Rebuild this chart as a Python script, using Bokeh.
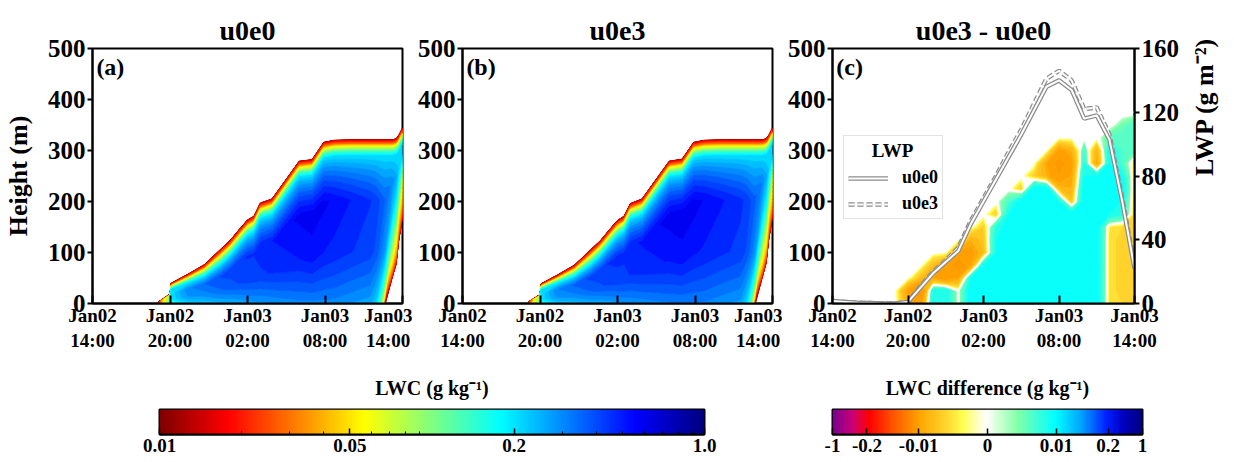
import numpy as np
from contourpy import contour_generator, FillType, LineType
from bokeh.plotting import figure
from bokeh.models import (ColumnDataSource, FixedTicker, Range1d, LinearAxis, Label,
                          Legend, LegendItem, Spacer)
from bokeh.layouts import row, column
from bokeh.embed import file_html
from bokeh.resources import INLINE

FONT = "Liberation Serif"

# ---------------- data ----------------
# hours since Jan02 14:00
x_ticks = [0, 6, 12, 18, 24]
x_tick_labels = ["Jan02\n14:00", "Jan02\n20:00", "Jan03\n02:00", "Jan03\n08:00", "Jan03\n14:00"]
y_ticks = [0, 100, 200, 300, 400, 500]
lwp_ticks = [0, 40, 80, 120, 160]

# cloud columns for panels (a) and (b)
hours_ab = [0, 5, 6.0, 6.1, 7.35, 8.65, 9.9, 10.7, 11.35, 12.0, 12.5, 13.0, 13.9,
            16.0, 17.0, 17.9, 18.7, 20.0, 21.5, 22.0, 22.6, 23.2, 23.5, 23.7, 24.0]
top_a = [0, 0, 18, 39, 56, 75, 105, 124, 144, 163, 170, 196, 204,
         278, 281, 315, 319, 320, 320, 320, 320, 320, 322, 328, 343]
base_a = [0, 0, 0, 0, 0, 0, 0, 0, 0, 0, 0, 0, 0,
          0, 0, 0, 0, 0, 0, 0, 0, 52, 78, 124, 170]
low_a = [0, 0, 0.1, 0.12, 0.2, 0.22, 0.24, 0.24, 0.25, 0.26, 0.27, 0.27, 0.28,
         0.3, 0.3, 0.3, 0.3, 0.28, 0.26, 0.2, 0.012, 0.1, 0.08, 0.07, 0.06]
mid_a = [0, 0, 0.1, 0.2, 0.28, 0.3, 0.35, 0.38, 0.4, 0.42, 0.42, 0.44, 0.45,
         0.5, 0.52, 0.5, 0.48, 0.45, 0.42, 0.38, 0.28, 0.22, 0.18, 0.14, 0.1]
core_a = [0, 0, 0.1, 0.2, 0.3, 0.35, 0.4, 0.42, 0.44, 0.45, 0.45, 0.47, 0.5,
          0.58, 0.6, 0.58, 0.55, 0.5, 0.45, 0.42, 0.36, 0.3, 0.26, 0.22, 0.2]

top_b = [0, 0, 17, 38, 55, 74, 104, 123, 143, 162, 170, 195, 204,
         278, 282, 315, 319, 320, 320, 320, 320, 320, 322, 328, 343]
base_b = [0, 0, 0, 0, 0, 0, 0, 0, 0, 0, 0, 0, 0,
          0, 0, 0, 0, 0, 0, 0, 0, 52, 80, 126, 172]
low_b = [0, 0, 0.1, 0.12, 0.21, 0.23, 0.25, 0.25, 0.26, 0.27, 0.28, 0.28, 0.29,
         0.31, 0.31, 0.31, 0.31, 0.29, 0.27, 0.2, 0.012, 0.1, 0.08, 0.07, 0.06]
mid_b = [0, 0, 0.1, 0.2, 0.29, 0.31, 0.36, 0.39, 0.41, 0.43, 0.43, 0.45, 0.46,
         0.51, 0.53, 0.51, 0.49, 0.46, 0.43, 0.39, 0.29, 0.22, 0.18, 0.14, 0.1]
core_b = [0, 0, 0.1, 0.2, 0.31, 0.36, 0.41, 0.43, 0.45, 0.46, 0.46, 0.48, 0.51,
          0.59, 0.61, 0.59, 0.56, 0.51, 0.46, 0.43, 0.37, 0.31, 0.26, 0.22, 0.2]

# difference field u0e3 - u0e0 (g/kg): rows = heights, columns = hours 0..24
diff_hours = list(range(25))
diff_heights = [0, 25, 50, 75, 100, 125, 150, 175, 200, 225, 250, 275, 300, 325, 350, 375]
diff_rows = [
    [0, 0, 0, 0, 0, 0, -0.008, -0.012, 0.008, 0.008, 0, 0.01, 0.01, 0.01, 0.01, 0.01, 0.01, 0.01, 0.01, 0.01, 0.01, 0.01, -0.0025, -0.003, -0.003],
    [0, 0, 0, 0, 0, 0, -0.012, -0.02, 0.008, 0.008, 0, 0.01, 0.01, 0.01, 0.01, 0.01, 0.01, 0.01, 0.01, 0.01, 0.01, 0.01, -0.0025, -0.0035, -0.003],
    [0, 0, 0, 0, 0, 0, 0, -0.006, -0.01, -0.015, -0.01, 0.008, 0.01, 0.01, 0.01, 0.01, 0.01, 0.01, 0.01, 0.01, 0.01, 0.01, -0.0025, -0.0035, -0.003],
    [0, 0, 0, 0, 0, 0, 0, 0, -0.006, -0.012, -0.02, -0.01, 0.008, 0.01, 0.01, 0.01, 0.01, 0.01, 0.01, 0.01, 0.01, 0.01, -0.0025, -0.0035, -0.003],
    [0, 0, 0, 0, 0, 0, 0, 0, 0, 0, -0.012, -0.012, -0.006, 0.008, 0.01, 0.01, 0.01, 0.01, 0.01, 0.01, 0.01, 0.01, -0.0025, -0.0035, -0.003],
    [0, 0, 0, 0, 0, 0, 0, 0, 0, 0, 0, -0.008, -0.005, 0.008, 0.01, 0.01, 0.01, 0.01, 0.01, 0.01, 0.01, 0.01, -0.0025, -0.0035, -0.003],
    [0, 0, 0, 0, 0, 0, 0, 0, 0, 0, 0, 0, -0.004, 0.006, 0.01, 0.01, 0.01, 0.01, 0.01, 0.01, 0.01, 0.01, -0.002, -0.003, -0.003],
    [0, 0, 0, 0, 0, 0, 0, 0, 0, 0, 0, 0, 0, -0.004, 0.008, 0.01, 0.01, 0.01, 0.01, 0.01, 0.01, 0.01, 0.008, 0.006, -0.003],
    [0, 0, 0, 0, 0, 0, 0, 0, 0, 0, 0, 0, 0, 0, 0.004, 0.01, 0.01, 0.01, 0.008, -0.005, 0.01, 0.01, 0.01, 0.008, -0.003],
    [0, 0, 0, 0, 0, 0, 0, 0, 0, 0, 0, 0, 0, 0, 0, -0.004, 0.01, 0.01, -0.006, -0.008, 0.01, 0.01, 0.01, 0.01, -0.003],
    [0, 0, 0, 0, 0, 0, 0, 0, 0, 0, 0, 0, 0, 0, 0, 0, -0.004, -0.008, -0.015, -0.01, 0.008, 0.008, 0.01, 0.008, -0.0025],
    [0, 0, 0, 0, 0, 0, 0, 0, 0, 0, 0, 0, 0, 0, 0, 0, 0, -0.01, -0.018, -0.012, 0.006, -0.01, 0.008, 0.004, -0.002],
    [0, 0, 0, 0, 0, 0, 0, 0, 0, 0, 0, 0, 0, 0, 0, 0, 0, 0, -0.012, -0.008, 0.004, -0.008, 0.008, 0.004, 0.003],
    [0, 0, 0, 0, 0, 0, 0, 0, 0, 0, 0, 0, 0, 0, 0, 0, 0, 0, 0, 0, 0, 0, 0.003, 0.004, 0.004],
    [0, 0, 0, 0, 0, 0, 0, 0, 0, 0, 0, 0, 0, 0, 0, 0, 0, 0, 0, 0, 0, 0, 0, 0.002, 0.004],
    [0] * 25,
]

# liquid water path (g m-2)
lwp_hours = list(range(25))
lwp_u0e0 = [1.5, 1.0, 0.5, 0.3, 0, 0, 1, 10, 19, 26, 33, 50, 64, 78, 92, 106, 121, 136, 140, 134, 116, 118, 103, 65, 22]
lwp_u0e3 = [1.5, 1.0, 0.5, 0.3, 0, 0, 1, 11, 20, 27, 35, 52, 66, 80, 95, 109, 125, 141, 146, 140, 122, 123, 106, 67, 24]

# colour bars
lwc_cb_ticks = [0.01, 0.05, 0.2, 1.0]
lwc_cb_labels = ["0.01", "0.05", "0.2", "1.0"]
diff_cb_ticks = [-1, -0.2, -0.01, 0, 0.01, 0.2, 1]
diff_cb_labels = ["-1", "-0.2", "-0.01", "0", "0.01", "0.2", "1"]
diff_scale_vals = [-1, -0.5, -0.2, -0.1, -0.05, -0.01, -0.005, -0.002, -0.001, 0,
                   0.001, 0.002, 0.005, 0.01, 0.05, 0.1, 0.2, 0.5, 1]

# ---------------- colour maps ----------------
def hexc(r, g, b):
    return "#%02x%02x%02x" % (int(round(r * 255)), int(round(g * 255)), int(round(b * 255)))

def jet(t):
    r = min(max(1.5 - abs(4 * t - 3), 0), 1)
    g = min(max(1.5 - abs(4 * t - 2), 0), 1)
    b = min(max(1.5 - abs(4 * t - 1), 0), 1)
    return hexc(r, g, b)

def lwc_pos(v):
    return np.log10(v / 0.01) / 2.0

def lwc_color_at(pos):
    return jet(1.0 - pos)

diff_anchor_pos = [0, 0.06, 0.117, 0.2, 0.28, 0.37, 0.42, 0.47, 0.5, 0.53, 0.6, 0.66, 0.72, 0.8, 0.885, 0.94, 1.0]
diff_anchor_col = ["#7a0090", "#c8007a", "#ff0000", "#ff5a00", "#ffa500", "#ffd830", "#ffff50", "#ffffc8",
                   "#ffffff", "#d8ffd8", "#80ffa8", "#40ffd8", "#00ffff", "#00a8ff", "#0020ff", "#0000c0", "#000080"]
_dac = np.array([[int(c[1:3], 16), int(c[3:5], 16), int(c[5:7], 16)] for c in diff_anchor_col]) / 255.0

def diff_color_at(pos):
    r = np.interp(pos, diff_anchor_pos, _dac[:, 0])
    g = np.interp(pos, diff_anchor_pos, _dac[:, 1])
    b = np.interp(pos, diff_anchor_pos, _dac[:, 2])
    return hexc(r, g, b)

diff_scale_pos = [i / 18.0 for i in range(19)]

def diff_pos(v):
    return float(np.interp(v, diff_scale_vals, diff_scale_pos))

# ---------------- fields ----------------
def column_nodes(top, base, low, mid, core):
    if core <= 0:
        z = [-9, -6, -3, 0, 0.5, 1, 1.5, 2, 2.5, 3, 4, 600]
        return z, [0.0] * 12
    depth = top - base
    band = min(30.0, 0.3 * depth)
    if base > 0:
        bb = min(70.0, 0.4 * depth)
        z0 = [-6, base - 3, base, base + bb]
        v0 = [0.0, 0.0, 0.015, low]
    else:
        z0 = [-9, -6, -3, 0]
        v0 = [low, low, low, low]
    lo = z0[3]
    hi = top - band
    z = z0 + [lo + 0.35 * (hi - lo), lo + 0.7 * (hi - lo), hi,
              top - 0.55 * band, top - 0.25 * band, top, top + 3, 600]
    v = v0 + [mid, core, min(0.2, core), min(0.08, core), min(0.03, core), 0.015, 0.0, 0.0]
    return z, v

def lwc_grid(hours, top, base, low, mid, core):
    X, Y, Z = [], [], []
    for h, t, b, lo, mi, co in zip(hours, top, base, low, mid, core):
        z, v = column_nodes(t, b, lo, mi, co)
        X.append([h] * len(z))
        Y.append(z)
        Z.append(v)
    return np.array(X, float).T, np.array(Y, float).T, np.array(Z, float).T

def fill_contours(p, X, Y, Z, levels, color_fn):
    gen = contour_generator(X, Y, Z, fill_type=FillType.OuterOffset, line_type=LineType.Separate)
    xs, ys, cs = [], [], []
    for lo, hi in zip(levels[:-1], levels[1:]):
        c = color_fn(lo, hi)
        if c is None:
            continue
        pts_list, off_list = gen.filled(lo, hi)
        for pts, offs in zip(pts_list, off_list):
            rx = [pts[offs[i]:offs[i + 1], 0].tolist() for i in range(len(offs) - 1)]
            ry = [pts[offs[i]:offs[i + 1], 1].tolist() for i in range(len(offs) - 1)]
            xs.append([rx])
            ys.append([ry])
            cs.append(c)
    src = ColumnDataSource(dict(xs=xs, ys=ys, c=cs))
    p.multi_polygons(xs="xs", ys="ys", fill_color="c", line_color="c", line_width=0.8, source=src)
    return gen

lwc_levels = list(np.logspace(-2, 0, 41))

def lwc_interval_color(lo, hi):
    return lwc_color_at(lwc_pos(np.sqrt(lo * hi)))

diff_levels = [-1, -0.5, -0.2, -0.1, -0.05, -0.03, -0.02, -0.015, -0.01, -0.008, -0.006, -0.005,
               -0.004, -0.003, -0.002, -0.0015, -0.001, 0.001, 0.0015, 0.002, 0.003, 0.004, 0.005,
               0.006, 0.008, 0.01, 0.015, 0.02, 0.03, 0.05, 0.1, 0.2, 0.5, 1]

def diff_interval_color(lo, hi):
    if lo == -0.001:
        return None
    return diff_color_at(diff_pos(0.5 * (lo + hi)))

# ---------------- figures ----------------
def style_text_axis(ax, size):
    ax.major_label_text_font = FONT
    ax.major_label_text_font_style = "bold"
    ax.major_label_text_font_size = size
    ax.major_label_text_color = "black"
    ax.axis_label_text_font = FONT
    ax.axis_label_text_font_style = "bold"
    ax.axis_label_text_font_size = "26px"
    ax.axis_label_text_color = "black"
    ax.axis_line_color = "black"
    ax.major_tick_line_color = "black"
    ax.axis_line_width = 2
    ax.major_tick_line_width = 2
    ax.minor_tick_line_color = None

def base_panel(title, letter, width, left, right):
    p = figure(width=width, height=360, x_range=Range1d(0, 24), y_range=Range1d(0, 500),
               min_border_left=left, min_border_right=right, min_border_top=48, min_border_bottom=57,
               output_backend="svg", toolbar_location=None, title=title)
    p.xgrid.visible = False
    p.ygrid.visible = False
    p.outline_line_color = "black"
    p.outline_line_width = 2
    p.outline_line_alpha = 1
    p.title.align = "center"
    p.title.text_font = FONT
    p.title.text_font_style = "bold"
    p.title.text_font_size = "28px"
    p.title.text_color = "black"
    p.title.standoff = 5
    ax = p.xaxis[0]
    style_text_axis(ax, "19px")
    ax.ticker = FixedTicker(ticks=x_ticks)
    ax.major_label_overrides = {t: l for t, l in zip(x_ticks, x_tick_labels)}
    ax.major_tick_in = 8
    ax.major_tick_out = 0
    ax.major_label_standoff = 1
    ay = p.yaxis[0]
    style_text_axis(ay, "25px")
    ay.ticker = FixedTicker(ticks=y_ticks)
    ay.major_tick_in = 0
    ay.major_tick_out = 5
    ay.major_label_standoff = 2
    ay.axis_label_standoff = 12
    p.add_layout(Label(x=0.3, y=490, text=letter, text_baseline="top", text_font=FONT,
                       text_font_style="bold", text_font_size="24px", text_color="black"))
    return p

pa = base_panel("u0e0", "(a)", 412, 92, 10)
pa.yaxis[0].axis_label = "Height (m)"
Xa, Ya, Za = lwc_grid(hours_ab, top_a, base_a, low_a, mid_a, core_a)
fill_contours(pa, Xa, Ya, Za, lwc_levels, lwc_interval_color)

pb = base_panel("u0e3", "(b)", 370, 50, 10)
Xb, Yb, Zb = lwc_grid(hours_ab, top_b, base_b, low_b, mid_b, core_b)
fill_contours(pb, Xb, Yb, Zb, lwc_levels, lwc_interval_color)

pc = base_panel("u0e3 - u0e0", "(c)", 454, 50, 94)
Xc, Yc = np.meshgrid(np.array(diff_hours, float), np.array(diff_heights, float))
Zc = np.array(diff_rows, float)
gen_c = fill_contours(pc, Xc, Yc, Zc, diff_levels, diff_interval_color)
zero_lines = gen_c.lines(0.0)
pc.multi_line([l[:, 0].tolist() for l in zero_lines], [l[:, 1].tolist() for l in zero_lines],
              line_color="white", line_width=2)

pc.extra_y_ranges = {"lwp": Range1d(0, 160)}
ar = LinearAxis(y_range_name="lwp", axis_label="LWP (g m\u207b\u00b2)")
style_text_axis(ar, "25px")
ar.ticker = FixedTicker(ticks=lwp_ticks)
ar.major_tick_in = 0
ar.major_tick_out = 5
ar.major_label_standoff = 2
ar.axis_label_standoff = 22
if hasattr(ar, "axis_label_orientation"):
    ar.axis_label_orientation = float(np.pi / 2)
pc.add_layout(ar, "right")

g3 = pc.line(lwp_hours, lwp_u0e3, y_range_name="lwp", line_color="#8c8c8c", line_width=4.5, line_dash="6 3")
w3 = pc.line(lwp_hours, lwp_u0e3, y_range_name="lwp", line_color="white", line_width=2, line_dash="6 3")
g0 = pc.line(lwp_hours, lwp_u0e0, y_range_name="lwp", line_color="#8c8c8c", line_width=4.5)
w0 = pc.line(lwp_hours, lwp_u0e0, y_range_name="lwp", line_color="white", line_width=2)

leg = Legend(items=[LegendItem(label="u0e0", renderers=[g0, w0]),
                    LegendItem(label="u0e3", renderers=[g3, w3])],
             location=(11, 84), title="\u00a0\u00a0\u00a0\u00a0\u00a0LWP")
leg.title_text_font = FONT
leg.title_text_font_style = "bold"
leg.title_text_font_size = "19px"
leg.title_text_color = "black"
leg.label_text_font = FONT
leg.label_text_font_style = "bold"
leg.label_text_font_size = "18px"
leg.label_text_color = "black"
leg.border_line_color = "#c8c8c8"
leg.border_line_width = 1.5
leg.background_fill_alpha = 0.9
leg.glyph_width = 40
leg.glyph_height = 20
leg.label_standoff = 14
leg.padding = 4
leg.spacing = 5
pc.add_layout(leg)

# ---------------- colour bars ----------------
def colorbar_fig(title, width, palette, tick_pos, tick_labels, minor_pos=None):
    p = figure(width=width, height=94, x_range=Range1d(0, 1), y_range=Range1d(0, 1),
               min_border_left=20, min_border_right=20, min_border_top=49, min_border_bottom=17,
               output_backend="svg", toolbar_location=None, title=title)
    p.image(image=[np.linspace(0, 1, 256).reshape(1, -1)], x=0, y=0, dw=1, dh=1, palette=palette)
    p.xgrid.visible = False
    p.ygrid.visible = False
    p.yaxis.visible = False
    p.outline_line_color = "black"
    p.outline_line_width = 2
    p.outline_line_alpha = 1
    p.title.align = "center"
    p.title.text_font = FONT
    p.title.text_font_style = "bold"
    p.title.text_font_size = "20px"
    p.title.text_color = "black"
    p.title.standoff = 21
    ax = p.xaxis[0]
    ax.ticker = FixedTicker(ticks=tick_pos, minor_ticks=minor_pos or [])
    ax.major_label_overrides = {t: l for t, l in zip(tick_pos, tick_labels)}
    ax.major_tick_in = 6
    ax.major_tick_out = 0
    ax.minor_tick_in = 3
    ax.minor_tick_out = 0
    ax.major_tick_line_width = 1.5
    ax.axis_line_width = 2
    ax.axis_line_color = "black"
    ax.major_label_text_font = FONT
    ax.major_label_text_font_style = "bold"
    ax.major_label_text_font_size = "19px"
    ax.major_label_text_color = "black"
    ax.major_label_standoff = 4
    return p

lwc_palette = [lwc_color_at(i / 255.0) for i in range(256)]
lwc_major = [float(lwc_pos(v)) for v in lwc_cb_ticks]
lwc_minor = [float(lwc_pos(m * d)) for d in (0.01, 0.1) for m in range(2, 10)]
cb1 = colorbar_fig("LWC (g kg\u207b\u00b9)", 585, lwc_palette, lwc_major, lwc_cb_labels, lwc_minor)

diff_palette = [diff_color_at(i / 255.0) for i in range(256)]
diff_major = [diff_pos(v) for v in diff_cb_ticks]
cb2 = colorbar_fig("LWC difference (g kg\u207b\u00b9)", 350, diff_palette, diff_major, diff_cb_labels)

layout = column(row(pa, pb, pc),
                row(Spacer(width=139, height=94), cb1, Spacer(width=88, height=94), cb2))

open("out.html", "w").write(file_html(layout, INLINE))
